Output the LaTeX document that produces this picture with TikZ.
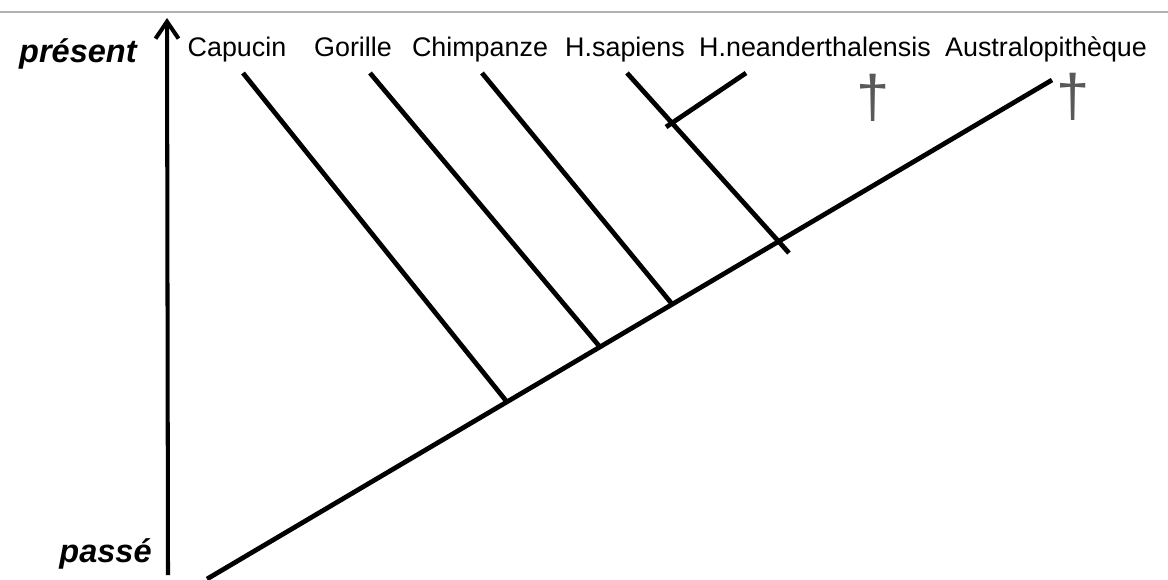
\documentclass[tikz,border=0pt]{standalone}
\usepackage{fontspec}
\setmainfont{Liberation Sans}
\usetikzlibrary{positioning, arrows.meta}
\tikzset{
    espece/.style={anchor=base, inner sep=0pt, font=\fontsize{15.3}{18}\selectfont},
    temps/.style={anchor=base east, inner sep=0pt, font=\fontsize{18.5}{22}\selectfont\bfseries\itshape},
    branche/.style={line width=2.7pt},
    eteint/.style={anchor=base, inner sep=0pt, text=black!65, font=\fontsize{34}{38}\selectfont},
  }
\begin{document}
\begin{tikzpicture}[x=0.02cm, y=-0.02cm]
    \useasboundingbox (0,0) rectangle (1168,579);
    \draw[black!30, line width=1.2pt] (0,12) -- (1168,12); % bord du haut

    % axe du temps
    \coordinate (passe0) at (168,575);
    \coordinate (present0) at (167,18);
    \draw[line width=2.3pt, -{Straight Barb[length=3.4mm, width=4.6mm, line width=2.3pt]}] (passe0) -- (present0);
    \node[temps] (present) at (137,62) {présent};
    \node[temps] (passe) at (152,562) {passé};

    % especes
    \foreach \nom/\x [count=\i] in {Capucin/237, Gorille/353, Chimpanze/480, H.sapiens/625, H.neanderthalensis/815, Australopithèque/1046}{
        \node[espece] (e\i) at (\x,56) {\nom};
    }

    % tronc
    \coordinate (racine) at (207,579);
    \coordinate (sommet) at (1052,80);
    \draw[branche] (racine) -- (sommet);

    % branches
    \foreach \xh/\xb/\yb [count=\i] in {243/507/402, 370/600/347, 482/672/304, 627/789/253}{
        \coordinate (h\i) at (\xh,73);
        \coordinate (b\i) at (\xb,\yb);
        \draw[branche] (h\i) -- (b\i);
    }
    \coordinate (neand) at (746,73);
    \coordinate (noeud) at (666,127);
    \draw[branche] (neand) -- (noeud);

    % especes eteintes
    \node[eteint] (mort1) at (873,117) {†};
    \node[eteint] (mort2) at (1073,116) {†};
\end{tikzpicture}
\end{document}
